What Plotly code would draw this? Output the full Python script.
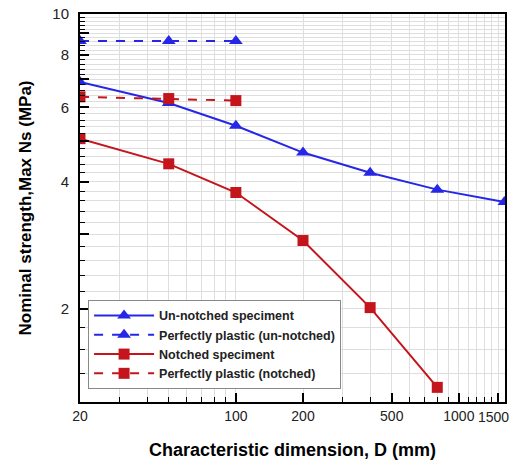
import plotly.graph_objects as go
import numpy as np

# ---- data ----
D_unnotched = [20, 50, 100, 200, 400, 800, 1600]
N_unnotched = [6.9, 6.15, 5.43, 4.69, 4.20, 3.83, 3.58]

D_pp_unnotched = [20, 50, 100]
N_pp_unnotched = [8.63, 8.63, 8.63]

D_notched = [20, 50, 100, 200, 400, 800]
N_notched = [5.06, 4.41, 3.77, 2.90, 2.01, 1.30]

D_pp_notched = [20, 50, 100]
N_pp_notched = [6.36, 6.30, 6.23]

x_tickvals = [20, 100, 200, 500, 1000, 1500]
x_ticktext = ["20", "100", "200", "500", "1000", ""]
x_edge_label = "1500"
x_minor = [30, 40, 50, 60, 70, 80, 90, 300, 400, 600, 700, 800, 900, 1100, 1200, 1300, 1400, 1600]

y_tickvals = [2, 3, 4, 5, 6, 7, 8, 9, 10]
y_ticktext = ["2", "", "4", "", "6", "", "8", "", "10"]
y_minor = [round(v, 1) for v in np.arange(1.2, 10.0, 0.2) if abs(v - round(v)) > 0.05]

BLUE = "#2626e6"
RED = "#c4141c"

fig = go.Figure()
fig.add_trace(go.Scatter(x=D_unnotched, y=N_unnotched, mode="lines+markers",
                         name="Un-notched speciment",
                         line=dict(color=BLUE, width=2),
                         marker=dict(symbol="triangle-up", size=12, color=BLUE)))
fig.add_trace(go.Scatter(x=D_pp_unnotched, y=N_pp_unnotched, mode="lines+markers",
                         name="Perfectly plastic (un-notched)",
                         line=dict(color=BLUE, width=2, dash="dash"),
                         marker=dict(symbol="triangle-up", size=12, color=BLUE)))
fig.add_trace(go.Scatter(x=D_notched, y=N_notched, mode="lines+markers",
                         name="Notched speciment",
                         line=dict(color=RED, width=2),
                         marker=dict(symbol="square", size=11, color=RED)))
fig.add_trace(go.Scatter(x=D_pp_notched, y=N_pp_notched, mode="lines+markers",
                         name="Perfectly plastic (notched)",
                         line=dict(color=RED, width=2, dash="dash"),
                         marker=dict(symbol="square", size=11, color=RED)))

FONT = "Liberation Sans, Arial, sans-serif"
GRID = "#dedede"

fig.update_layout(
    width=511, height=464,
    margin=dict(l=80, r=6, t=14, b=62),
    paper_bgcolor="white", plot_bgcolor="white",
    font=dict(family=FONT, color="black"),
    showlegend=True,
    legend=dict(x=0.019, y=0.263, xanchor="left", yanchor="top",
                bgcolor="white", bordercolor="#888888", borderwidth=1,
                font=dict(size=12.5, family=FONT, weight="bold", color="#222222"),
                tracegroupgap=0, itemwidth=60),
)

fig.add_annotation(x=np.log10(1500), y=0, xref="x", yref="paper",
                   yanchor="top", xanchor="right", xshift=12, yshift=-6,
                   text=x_edge_label, showarrow=False, borderpad=0,
                   font=dict(size=14, family=FONT, color="#222222"))

fig.update_xaxes(
    type="log", range=[np.log10(20), np.log10(1610)],
    automargin=False,
    tickmode="array", tickvals=x_tickvals, ticktext=x_ticktext,
    ticks="inside", ticklen=9, tickwidth=2, tickcolor="black",
    tickfont=dict(size=14, family=FONT, color="#222222"),
    showgrid=True, gridcolor=GRID, gridwidth=1,
    minor=dict(tickmode="array", tickvals=x_minor, ticks="inside", ticklen=5,
               tickwidth=1, tickcolor="black", showgrid=True, gridcolor=GRID, gridwidth=1),
    showline=True, linecolor="black", linewidth=2, mirror=True,
    title=dict(text="Characteristic dimension, D (mm)", standoff=21,
               font=dict(size=18, family=FONT, weight="bold", color="black")),
    zeroline=False,
)
fig.update_yaxes(
    type="log", range=[np.log10(1.2), 1.0],
    automargin=False,
    tickmode="array", tickvals=y_tickvals, ticktext=y_ticktext,
    ticks="inside", ticklen=9, tickwidth=2, tickcolor="black",
    tickfont=dict(size=15, family=FONT, color="#222222"),
    ticklabelstandoff=6,
    showgrid=True, gridcolor=GRID, gridwidth=1,
    minor=dict(tickmode="array", tickvals=y_minor, ticks="inside", ticklen=5,
               tickwidth=1, tickcolor="black", showgrid=True, gridcolor=GRID, gridwidth=1),
    showline=True, linecolor="black", linewidth=2, mirror=True,
    title=dict(text="Nominal strength,Max Ns (MPa)", standoff=16,
               font=dict(size=17, family=FONT, weight="bold", color="black")),
    zeroline=False,
)

fig.write_html("out.html")
